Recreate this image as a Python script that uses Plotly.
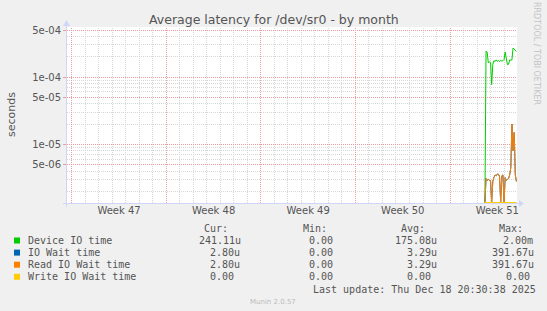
import numpy as np
import pandas as pd
import plotly.graph_objects as go

# ---------------- data ----------------
times = pd.date_range("2025-12-17 14:00", periods=29, freq="2h")
device_io = [0, 2.42e-4, 2.35e-4, 1.63e-4, 1.67e-4, 1.65e-4, 7.7e-5, 1.55e-4, 1.75e-4,
             1.70e-4, 1.80e-4, 1.72e-4, 1.76e-4, 1.70e-4, 1.78e-4, 1.72e-4, 1.75e-4,
             1.82e-4, 2.35e-4, 1.70e-4, 1.52e-4, 1.55e-4, 1.80e-4, 1.78e-4, 1.80e-4,
             2.70e-4, 2.60e-4, 2.50e-4, 2.41e-4]
io_wait = [0, 3.1e-6, 2.9e-6, 3.0e-6, 2.9e-6, 2.9e-6, 0, 2.8e-6, 3.2e-6,
           3.5e-6, 3.4e-6, 3.6e-6, 3.6e-6, 3.3e-6, 0, 3.4e-6, 3.5e-6,
           0, 3.2e-6, 2.9e-6, 3.0e-6, 3.1e-6, 3.5e-6, 4.5e-6, 2.0e-5,
           8e-6, 1.5e-5, 3.5e-6, 2.8e-6]
read_io_wait = list(io_wait)
write_io_wait = [0] * 29

series_names = ["Device IO time", "IO Wait time", "Read IO Wait time", "Write IO Wait time"]
series_colors = ["#00CC00", "#0066B3", "#FF8000", "#FFCC00"]
cur_vals = ["241.11u", "2.80u", "2.80u", "0.00"]
min_vals = ["0.00", "0.00", "0.00", "0.00"]
avg_vals = ["175.08u", "3.29u", "3.29u", "0.00"]
max_vals = ["2.00m", "391.67u", "391.67u", "0.00"]

y_tickvals = [5e-6, 1e-5, 5e-5, 1e-4, 5e-4]
y_ticktext = ["5e-06", "1e-05", "5e-05", "1e-04", "5e-04"]

# ---------------- geometry ----------------
W, H = 547, 311
L, R, T, B = 67, 517, 27, 203
PW, PH = R - L, B - T
ymin, ymax = -5.873, -3.256
x_start, x_end = pd.Timestamp("2025-11-16 15:30"), pd.Timestamp("2025-12-19 23:00")

def px(x):
    return (x - L) / PW

def py(y):
    return (B - y) / PH

def snap(p):
    return np.floor(p) + 0.5

floor = 10 ** (ymin + 0.008)

def fix(v):
    v = np.asarray(v, dtype=float)
    return np.where(v > 0, v, floor)

fig = go.Figure()
for name, vals, col in zip(series_names, [device_io, io_wait, read_io_wait, write_io_wait], series_colors):
    fig.add_trace(go.Scatter(x=times, y=fix(vals), mode="lines", name=name,
                             line=dict(color=col, width=1), showlegend=False,
                             hoverinfo="skip"))

GRID = "#D6D6D6"
MGRID = "#EC9C9C"
FONT = "#555555"
AXIS = "#CFD6F8"
DASH = "1px,1px"

fig.update_layout(
    width=W, height=H,
    margin=dict(l=L, r=W - R, t=T, b=H - B, pad=0),
    paper_bgcolor="#F0F0F0", plot_bgcolor="#FFFFFF",
    font=dict(family="DejaVu Sans", size=10, color=FONT),
    xaxis=dict(type="date", range=[x_start, x_end], tick0="2025-11-17", dtick=7 * 86400000,
               ticklabelmode="period", tickformat="Week %V",
               showgrid=False, ticks="", showline=False, zeroline=False,
               tickfont=dict(size=10, color=FONT, family="DejaVu Sans")),
    yaxis=dict(type="log", range=[ymin, ymax], tickmode="array",
               tickvals=y_tickvals, ticktext=y_ticktext,
               showgrid=False, ticks="outside", ticklen=3, tickcolor=MGRID,
               showline=False, zeroline=False,
               tickfont=dict(size=10, color=FONT, family="DejaVu Sans")),
)

span = (x_end - x_start).total_seconds()

def xpix(t):
    return L + (t - x_start).total_seconds() / span * PW

def ypix(v):
    return B - (np.log10(v) - ymin) / (ymax - ymin) * PH

# vertical grid: daily minor, weekly (Monday) major
days = pd.date_range("2025-11-17", "2025-12-19", freq="D")
minor_shapes, major_shapes = [], []
for i, d in enumerate(days):
    xx = snap(xpix(d))
    if xx <= L or xx >= R:
        continue
    is_major = i % 7 == 0
    target = major_shapes if is_major else minor_shapes
    target.append(dict(type="line", xref="paper", yref="paper", layer="below",
                       x0=px(xx), x1=px(xx), y0=0, y1=1,
                       line=dict(color=MGRID if is_major else GRID, width=1, dash=DASH)))
# horizontal grid
minor_vals = [k * 10.0 ** e for e in (-6, -5, -4) for k in (2, 3, 4, 6, 7, 8, 9)]
for v, is_major in [(v, False) for v in minor_vals] + [(v, True) for v in y_tickvals]:
    yy = ypix(v)
    if yy <= T or yy >= B:
        continue
    yy = snap(yy)
    target = major_shapes if is_major else minor_shapes
    target.append(dict(type="line", xref="paper", yref="paper", layer="below",
                       x0=0, x1=1, y0=py(yy), y1=py(yy),
                       line=dict(color=MGRID if is_major else GRID, width=1, dash=DASH)))
shapes = minor_shapes + major_shapes

# axes + arrows
shapes.append(dict(type="line", xref="paper", yref="paper", x0=px(63), x1=px(520), y0=py(B + 0.5), y1=py(B + 0.5),
                   line=dict(color=AXIS, width=1)))
shapes.append(dict(type="line", xref="paper", yref="paper", x0=px(L - 0.5), x1=px(L - 0.5), y0=py(207), y1=py(22),
                   line=dict(color=AXIS, width=1)))
shapes.append(dict(type="path", xref="paper", yref="paper",
                   path=f"M {px(519)} {py(200)} L {px(524)} {py(203.5)} L {px(519)} {py(207)} Z",
                   fillcolor=AXIS, line=dict(color=AXIS, width=0)))
shapes.append(dict(type="path", xref="paper", yref="paper",
                   path=f"M {px(63)} {py(26)} L {px(66.5)} {py(20)} L {px(70)} {py(26)} Z",
                   fillcolor=AXIS, line=dict(color=AXIS, width=0)))

row_y = [240.5, 252.6, 264.7, 276.8]
for col, yy in zip(series_colors, row_y):
    shapes.append(dict(type="rect", xref="paper", yref="paper",
                       x0=px(14), x1=px(20), y0=py(yy + 3), y1=py(yy - 3),
                       fillcolor=col, line=dict(color=col, width=0)))
fig.update_layout(shapes=shapes)

MONO = "DejaVu Sans Mono"
annos = []

def txt(x, y, s, size=10, color=FONT, family=MONO, anchor="left", angle=0):
    annos.append(dict(xref="paper", yref="paper", x=px(x), y=py(y), text=s, showarrow=False,
                      xanchor=anchor, yanchor="middle", textangle=angle,
                      font=dict(family=family, size=size, color=color)))

txt(273.5, 19, "Average latency for /dev/sr0 - by month", size=12.5, family="DejaVu Sans", anchor="center")
txt(11, 115, "seconds", size=11, family="DejaVu Sans", anchor="center", angle=-90)
txt(537, 53, "RRDTOOL / TOBI OETIKER", size=8, color="#C4C4C4", family="DejaVu Sans", anchor="center", angle=90)

hy = 228.6
txt(202.4, hy, "Cur:")
txt(300.8, hy, "Min:")
txt(398.9, hy, "Avg:")
txt(497.0, hy, "Max:")

cur_x = [196.5, 208.4, 208.4, 208.4]
min_x = [307, 307, 307, 307]
avg_x = [393.3, 404.8, 404.8, 404.8]
max_x = [501.2, 490.3, 490.3, 503.6]
for i, yy in enumerate(row_y):
    txt(26.2, yy, series_names[i])
    txt(cur_x[i], yy, cur_vals[i])
    txt(min_x[i], yy, min_vals[i])
    txt(avg_x[i], yy, avg_vals[i])
    txt(max_x[i], yy, max_vals[i])

txt(311.3, 289.2, "Last update: Thu Dec 18 20:30:38 2025")
txt(273, 302, "Munin 2.0.57", size=7, color="#BBBBBB", family="DejaVu Sans", anchor="center")

fig.update_layout(annotations=annos)
fig.write_html("out.html")
